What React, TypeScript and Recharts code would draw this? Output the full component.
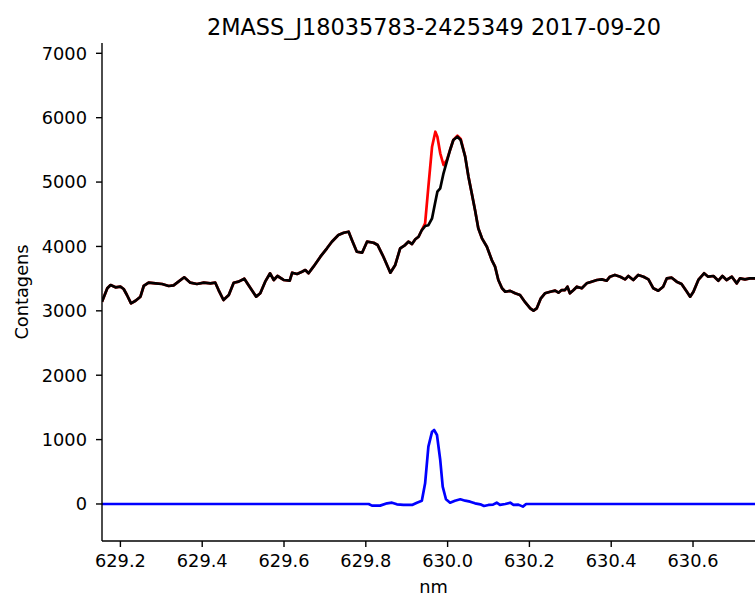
import { LineChart, Line, XAxis, YAxis } from "recharts";

// wavelength grid (nm) shared by the raw and the cleaned spectrum
const wavelength = [
  629.155, 629.168, 629.176, 629.188, 629.2, 629.208, 629.216, 629.226, 629.237, 629.249,
  629.257, 629.269, 629.286, 629.302, 629.318, 629.33, 629.342, 629.356, 629.371, 629.387,
  629.404, 629.42, 629.432, 629.44, 629.452, 629.465, 629.477, 629.489, 629.503, 629.513,
  629.532, 629.542, 629.554, 629.566, 629.575, 629.584, 629.599, 629.614, 629.62, 629.632,
  629.644, 629.652, 629.66, 629.672, 629.689, 629.705, 629.717, 629.733, 629.746, 629.758,
  629.766, 629.778, 629.791, 629.803, 629.819, 629.829, 629.843, 629.86, 629.872, 629.884,
  629.896, 629.904, 629.913, 629.921, 629.929, 629.937, 629.945, 629.953, 629.962, 629.97,
  629.975, 629.982, 629.99, 629.998, 630.006, 630.014, 630.024, 630.032, 630.043, 630.051,
  630.059, 630.067, 630.075, 630.084, 630.096, 630.108, 630.116, 630.124, 630.133, 630.141,
  630.153, 630.165, 630.177, 630.19, 630.202, 630.21, 630.218, 630.228, 630.238, 630.251,
  630.263, 630.271, 630.279, 630.287, 630.293, 630.299, 630.308, 630.316, 630.328, 630.34,
  630.352, 630.365, 630.377, 630.389, 630.397, 630.409, 630.422, 630.434, 630.442, 630.454,
  630.466, 630.479, 630.491, 630.503, 630.515, 630.527, 630.536, 630.548, 630.56, 630.572,
  630.585, 630.593, 630.601, 630.613, 630.627, 630.637, 630.65, 630.662, 630.672, 630.682,
  630.695, 630.707, 630.715, 630.727, 630.739, 630.751, 630.776,
];

// observed counts (red)
const rawCounts = [
  3142, 3350, 3401, 3365, 3375, 3339, 3246, 3117, 3157, 3220,
  3386, 3437, 3427, 3417, 3386, 3396, 3453, 3521, 3437, 3417,
  3437, 3427, 3437, 3323, 3168, 3246, 3437, 3453, 3499, 3401,
  3220, 3272, 3453, 3583, 3479, 3541, 3479, 3468, 3592, 3572,
  3608, 3634, 3583, 3686, 3841, 3971, 4074, 4178, 4213, 4229,
  4100, 3918, 3903, 4074, 4058, 4022, 3840, 3592, 3712, 3971,
  4022, 4074, 4038, 4111, 4151, 4255, 4359, 4928, 5549, 5782,
  5704, 5446, 5265, 5342, 5498, 5653, 5720, 5670, 5394, 5083,
  4825, 4566, 4282, 4126, 3996, 3789, 3686, 3479, 3350, 3297,
  3310, 3272, 3246, 3130, 3039, 3002, 3039, 3194, 3272, 3297,
  3313, 3282, 3323, 3323, 3375, 3272, 3323, 3375, 3350, 3427,
  3453, 3479, 3489, 3468, 3530, 3557, 3530, 3489, 3541, 3479,
  3557, 3530, 3489, 3350, 3313, 3375, 3505, 3515, 3453, 3417,
  3297, 3220, 3297, 3479, 3583, 3530, 3541, 3468, 3541, 3479,
  3530, 3427, 3505, 3489, 3505, 3505, 3490,
];

// counts with the emission component removed (black)
const cleanCounts = [
  3142, 3350, 3401, 3365, 3375, 3339, 3246, 3117, 3157, 3220,
  3386, 3437, 3427, 3417, 3386, 3396, 3453, 3521, 3437, 3417,
  3437, 3427, 3437, 3323, 3168, 3246, 3437, 3453, 3499, 3401,
  3220, 3272, 3453, 3583, 3479, 3541, 3479, 3468, 3592, 3572,
  3608, 3634, 3583, 3686, 3841, 3971, 4074, 4178, 4213, 4229,
  4100, 3918, 3903, 4074, 4058, 4022, 3840, 3592, 3712, 3971,
  4022, 4074, 4038, 4111, 4151, 4255, 4317, 4330, 4437, 4695,
  4850, 4903, 5136, 5316, 5498, 5653, 5704, 5653, 5394, 5083,
  4825, 4566, 4282, 4126, 3996, 3789, 3686, 3479, 3350, 3297,
  3310, 3272, 3246, 3130, 3039, 3002, 3039, 3194, 3272, 3297,
  3313, 3282, 3323, 3323, 3375, 3272, 3323, 3375, 3350, 3427,
  3453, 3479, 3489, 3468, 3530, 3557, 3530, 3489, 3541, 3479,
  3557, 3530, 3489, 3350, 3313, 3375, 3505, 3515, 3453, 3417,
  3297, 3220, 3297, 3479, 3583, 3530, 3541, 3468, 3541, 3479,
  3530, 3427, 3505, 3489, 3505, 3505, 3490,
];

// emission residual (blue), zero outside 629.8-630.2 nm
const residualWave = [
  629.155, 629.807, 629.815, 629.835, 629.852, 629.864, 629.876, 629.892, 629.913, 629.925,
  629.937, 629.945, 629.953, 629.962, 629.967, 629.974, 629.982, 629.988, 629.996, 630.006,
  630.018, 630.031, 630.043, 630.055, 630.067, 630.08, 630.089, 630.1, 630.111, 630.12,
  630.128, 630.141, 630.153, 630.161, 630.173, 630.184, 630.192, 630.776,
];
const residual = [
  0, 0, -26, -26, 10, 20, -5, -15, -15, 20,
  51, 321, 890, 1123, 1149, 1072, 683, 269, 73, 20,
  51, 73, 51, 36, 10, -5, -31, -15, -10, 20,
  -15, 0, 20, -15, -10, -41, 0, 0,
];

const xTicks = [629.2, 629.4, 629.6, 629.8, 630.0, 630.2, 630.4, 630.6];
const yTicks = [0, 1000, 2000, 3000, 4000, 5000, 6000, 7000];

const X_DOMAIN: [number, number] = [629.155, 630.776];
const Y_DOMAIN: [number, number] = [-575, 7160];

const FONT = "'DejaVu Sans', sans-serif";
const tickStyle = { fill: "#000", fontSize: 17.8, fontFamily: FONT };
const frame = { stroke: "#000", strokeWidth: 1.4 };

const spectrum = wavelength.map((nm, i) => ({
  nm,
  raw: rawCounts[i],
  clean: cleanCounts[i],
}));
const residualRows = residualWave.map((nm, i) => ({ nm, diff: residual[i] }));

const YLabel = ({ viewBox }: any) => {
  const cy = viewBox.y + viewBox.height / 2;
  return (
    <text
      x={28}
      y={cy}
      transform={`rotate(-90 28 ${cy})`}
      textAnchor="middle"
      fill="#000"
      fontSize={17.8}
      fontFamily={FONT}
    >
      Contagens
    </text>
  );
};

export default function App() {
  return (
    <div
      style={{
        position: "fixed",
        top: 0,
        left: 0,
        width: 755,
        height: 596,
        overflow: "hidden",
        background: "#fff",
      }}
    >
      <div
        style={{
          position: "absolute",
          top: 16,
          left: 434,
          transform: "translateX(-50%)",
          whiteSpace: "nowrap",
          fontFamily: FONT,
          fontSize: 22.4,
          lineHeight: "22px",
          color: "#000",
          zIndex: 1,
        }}
      >
        2MASS_J18035783-2425349 2017-09-20
      </div>
      <LineChart
        width={765}
        height={596}
        margin={{ top: 43, right: 0, bottom: 0, left: 0 }}
      >
        <XAxis
          dataKey="nm"
          type="number"
          domain={X_DOMAIN}
          allowDataOverflow
          ticks={xTicks}
          tickFormatter={(v: number) => v.toFixed(1)}
          tick={tickStyle}
          tickSize={6}
          tickMargin={7}
          tickLine={frame}
          axisLine={frame}
          height={55}
          label={{
            value: "nm",
            position: "insideBottom",
            offset: 3,
            fill: "#000",
            fontSize: 17.8,
            fontFamily: FONT,
          }}
        />
        <XAxis
          xAxisId="top"
          orientation="top"
          type="number"
          domain={X_DOMAIN}
          allowDataOverflow
          tick={false}
          tickLine={false}
          axisLine={frame}
          height={0}
        />
        <YAxis
          type="number"
          domain={Y_DOMAIN}
          allowDataOverflow
          ticks={yTicks}
          tick={tickStyle}
          tickSize={6}
          tickMargin={9}
          tickLine={frame}
          axisLine={frame}
          width={102}
          label={{ content: YLabel }}
        />
        <Line
          data={spectrum}
          dataKey="raw"
          stroke="#ff0000"
          strokeWidth={2.7}
          strokeLinejoin="round"
          dot={false}
          activeDot={false}
          isAnimationActive={false}
        />
        <Line
          data={spectrum}
          dataKey="clean"
          stroke="#000000"
          strokeWidth={2.7}
          strokeLinejoin="round"
          dot={false}
          activeDot={false}
          isAnimationActive={false}
        />
        <Line
          data={residualRows}
          dataKey="diff"
          stroke="#0000ff"
          strokeWidth={2.7}
          strokeLinejoin="round"
          dot={false}
          activeDot={false}
          isAnimationActive={false}
        />
      </LineChart>
    </div>
  );
}
